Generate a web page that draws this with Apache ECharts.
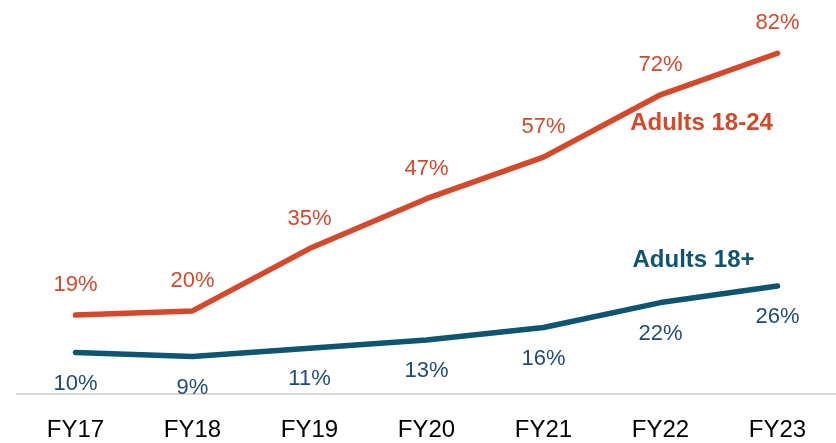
<!DOCTYPE html>
<html>
<head>
<meta charset="utf-8">
<script src="https://cdn.jsdelivr.net/npm/echarts@6/dist/echarts.min.js"></script>
<style>
  html, body { margin: 0; padding: 0; background: #fff; }
  #chart { width: 836px; height: 443px; }
</style>
</head>
<body>
<div id="chart"></div>
<script>
const categories = ['FY17', 'FY18', 'FY19', 'FY20', 'FY21', 'FY22', 'FY23']
const young = [19, 20, 35, 47, 57, 72, 82]
const all = [10, 9, 11, 13, 16, 22, 26]

const RED = '#d6482a'
const BLUE = '#0e5571'
const BLUE_TXT = '#1f4b78'
const FONT = '"Liberation Sans", Arial, sans-serif'

const chart = echarts.init(document.getElementById('chart'))
chart.setOption({
  animation: false,
  grid: { left: 17, right: -2, top: 20, bottom: 49 },
  xAxis: {
    type: 'category',
    data: categories,
    boundaryGap: true,
    axisLine: { lineStyle: { color: '#d9d9d9', width: 2 } },
    axisTick: { show: false },
    axisLabel: { color: '#000', fontSize: 24, fontFamily: FONT, margin: 24 }
  },
  yAxis: {
    type: 'value', min: 0, max: 90,
    show: false,
    splitLine: { show: false }
  },
  series: [
    {
      name: 'Adults 18-24',
      type: 'line',
      data: young,
      symbol: 'circle',
      symbolSize: 0,
      lineStyle: { color: RED, width: 5.5, cap: 'round' },
      label: {
        show: true, position: 'top', distance: 19,
        formatter: '{c}%', color: RED, fontSize: 22, fontFamily: FONT
      },
      markPoint: {
        symbol: 'circle', symbolSize: 0,
        data: [{ coord: ['FY22', 72] }],
        label: {
          show: true, formatter: 'Adults 18-24', offset: [41, 29],
          color: RED, fontSize: 24, fontWeight: 'bold', fontFamily: FONT
        }
      }
    },
    {
      name: 'Adults 18+',
      type: 'line',
      data: all,
      symbol: 'circle',
      symbolSize: 0,
      lineStyle: { color: BLUE, width: 5.5, cap: 'round' },
      label: {
        show: true, position: 'bottom', distance: 20,
        formatter: '{c}%', color: BLUE_TXT, fontSize: 22, fontFamily: FONT
      },
      markPoint: {
        symbol: 'circle', symbolSize: 0,
        data: [{ coord: ['FY22', 22] }],
        label: {
          show: true, formatter: 'Adults 18+', offset: [33, -42],
          color: BLUE, fontSize: 24, fontWeight: 'bold', fontFamily: FONT
        }
      }
    }
  ]
})
</script>
</body>
</html>
